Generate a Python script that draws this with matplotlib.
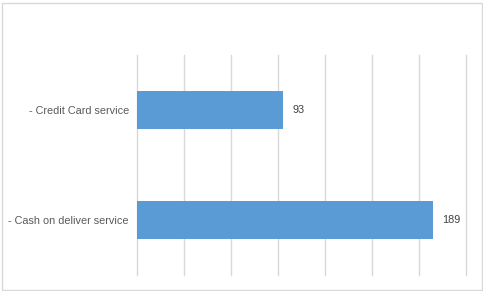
import matplotlib.pyplot as plt
from matplotlib.patches import Rectangle

# Datos
categorias = ["- Cash on deliver service", "- Credit Card service"]
valores = [189, 93]
ticks_x = [0, 30, 60, 90, 120, 150, 180, 210]

plt.rcParams['font.family'] = ['Liberation Sans', 'DejaVu Sans']

fig = plt.figure(figsize=(4.83, 2.91), dpi=100)
# area del grafico en pixeles: x 137.3-466.3, y 55-275
ax = fig.add_axes([137.3 / 483, (291 - 275) / 291, 329 / 483, 220 / 291])

posiciones = range(len(categorias))
ax.barh(posiciones, valores, height=0.35, color='#5b9bd5', zorder=3)

for p, v in zip(posiciones, valores):
    ax.annotate(str(v), xy=(v, p), xytext=(9, 0), textcoords='offset pixels',
                va='center', ha='left', fontsize=7.8, color='#404040')

ax.set_xlim(0, 210)
ax.set_ylim(-0.5, 1.5)
ax.set_xticks(ticks_x)
ax.set_xticklabels([])
ax.set_yticks(list(posiciones))
ax.set_yticklabels(categorias, fontsize=7.8, color='#595959')
ax.tick_params(axis='both', length=0)
ax.tick_params(axis='y', pad=6)
ax.grid(axis='x', color='#d9d9d9', linewidth=1, zorder=0)
for linea in ax.get_xgridlines():
    linea.set_clip_on(False)
for s in ax.spines.values():
    s.set_visible(False)

# borde exterior del grafico
fig.patches.append(Rectangle((1.5 / 483, 1.5 / 291), 480 / 483, 287 / 291,
                             transform=fig.transFigure, fill=False,
                             edgecolor='#d9d9d9', linewidth=1))

fig.savefig('out.png', dpi=100)
